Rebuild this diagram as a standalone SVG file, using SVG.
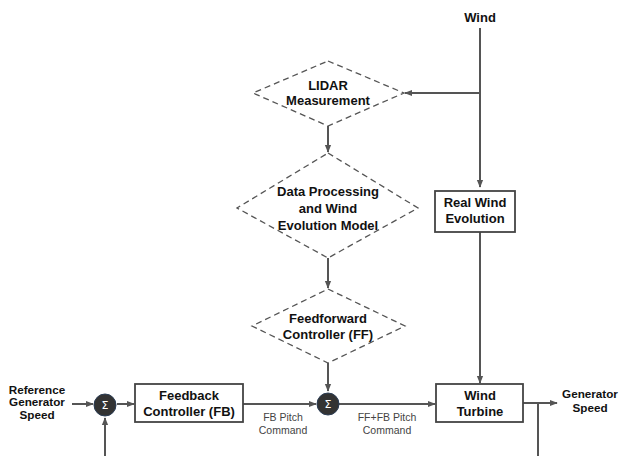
<svg xmlns="http://www.w3.org/2000/svg" width="619" height="456" viewBox="0 0 619 456">
<style>
.lbl{font-family:"Liberation Sans",Arial,sans-serif;font-weight:bold;font-size:13px;fill:#111;text-anchor:middle}
.io{font-family:"Liberation Sans",Arial,sans-serif;font-weight:bold;font-size:11.7px;fill:#111;text-anchor:middle}
.sm{font-family:"Liberation Sans",Arial,sans-serif;font-size:10.5px;fill:#444;text-anchor:middle}
.dia{fill:none;stroke:#555;stroke-width:1.3;stroke-dasharray:6 4}
.box{fill:#fff;stroke:#444;stroke-width:1.8}
.sum{fill:#333;stroke:#2b3d55;stroke-width:1}
.sig{font-family:"DejaVu Sans",sans-serif;font-size:11px;fill:#fff;text-anchor:middle}
.ln{fill:none;stroke:#555;stroke-width:2}
</style>
<defs>
<marker id="ah" viewBox="0 0 10 10" refX="9" refY="5" markerWidth="4" markerHeight="4" orient="auto" markerUnits="strokeWidth">
<path d="M0,1 L10,5 L0,9 z" fill="#555"/>
</marker>
</defs>
<rect width="619" height="456" fill="#fff"/>
<g id="connectors">
<path class="ln" d="M480,28 V187" marker-end="url(#ah)"/>
<path class="ln" d="M480,93 H405" marker-end="url(#ah)"/>
<path class="ln" d="M328,126 V152" marker-end="url(#ah)"/>
<path class="ln" d="M328,258 V288" marker-end="url(#ah)"/>
<path class="ln" d="M328,363 V391" marker-end="url(#ah)"/>
<path class="ln" d="M480,232 V383" marker-end="url(#ah)"/>
<path class="ln" d="M72,404 H93" marker-end="url(#ah)"/>
<path class="ln" d="M105,456 V418" marker-end="url(#ah)"/>
<path class="ln" d="M117,404 H134" marker-end="url(#ah)"/>
<path class="ln" d="M243,404 H316" marker-end="url(#ah)"/>
<path class="ln" d="M339,404 H435" marker-end="url(#ah)"/>
<path class="ln" d="M523,403 H557" marker-end="url(#ah)"/>
<path class="ln" d="M538,403 V456"/>
</g>
<g id="wind"><text class="lbl" x="480" y="22">Wind</text></g>
<g id="lidar">
<polygon class="dia" points="328,61 404,93 328,126 253,93"/>
<text class="lbl" x="328" y="90">LIDAR</text>
<text class="lbl" x="328" y="105">Measurement</text>
</g>
<g id="dataproc">
<polygon class="dia" points="328,153 418,208 328,258 237,208"/>
<text class="lbl" x="328" y="196">Data Processing</text>
<text class="lbl" x="328" y="213">and Wind</text>
<text class="lbl" x="328" y="230">Evolution Model</text>
</g>
<g id="realwind">
<rect class="box" x="435" y="191" width="80" height="41"/>
<text class="lbl" x="475" y="207">Real Wind</text>
<text class="lbl" x="475" y="223">Evolution</text>
</g>
<g id="ff">
<polygon class="dia" points="328,289 405,326 328,363 252,326"/>
<text class="lbl" x="328" y="323">Feedforward</text>
<text class="lbl" x="328" y="339">Controller (FF)</text>
</g>
<g id="ref">
<text class="io" x="37" y="394">Reference</text>
<text class="io" x="37" y="406">Generator</text>
<text class="io" x="37" y="419">Speed</text>
</g>
<g id="sum1">
<circle class="sum" cx="105" cy="405" r="11"/>
<text class="sig" x="105" y="409">Σ</text>
</g>
<g id="fb">
<rect class="box" x="135" y="384" width="108" height="38"/>
<text class="lbl" x="189" y="400">Feedback</text>
<text class="lbl" x="189" y="416">Controller (FB)</text>
</g>
<g id="fblabel">
<text class="sm" x="283" y="421">FB Pitch</text>
<text class="sm" x="283" y="434">Command</text>
</g>
<g id="sum2">
<circle class="sum" cx="328" cy="404" r="11"/>
<text class="sig" x="328" y="408">Σ</text>
</g>
<g id="fffblabel">
<text class="sm" x="387" y="421">FF+FB Pitch</text>
<text class="sm" x="387" y="434">Command</text>
</g>
<g id="turbine">
<rect class="box" x="436" y="384" width="87" height="38"/>
<text class="lbl" x="480" y="400">Wind</text>
<text class="lbl" x="480" y="416">Turbine</text>
</g>
<g id="genspeed">
<text class="io" x="590" y="398">Generator</text>
<text class="io" x="590" y="412">Speed</text>
</g>
</svg>
